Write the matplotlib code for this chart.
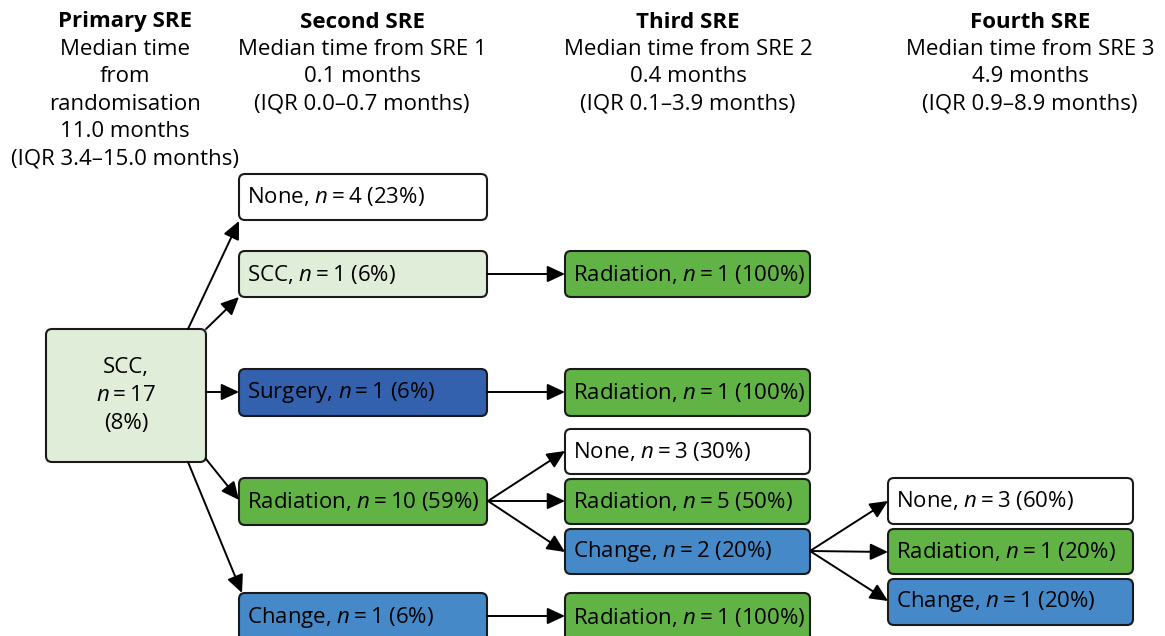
import matplotlib.pyplot as plt
from matplotlib.patches import FancyBboxPatch
from matplotlib.patches import ArrowStyle

plt.rcParams["font.family"] = "Open Sans"
plt.rcParams["mathtext.fontset"] = "custom"
plt.rcParams["mathtext.rm"] = "Open Sans"
plt.rcParams["mathtext.it"] = "Open Sans:italic"

FONT_SIZE = 16

# header of each column: (title, lines below)
HEADER_TITLES = ["Primary SRE", "Second SRE", "Third SRE", "Fourth SRE"]
HEADER_LINES = [
    ["Median time", "from", "randomisation", "11.0 months", "(IQR 3.4\u201315.0 months)"],
    ["Median time from SRE 1", "0.1 months", "(IQR 0.0\u20130.7 months)"],
    ["Median time from SRE 2", "0.4 months", "(IQR 0.1\u20133.9 months)"],
    ["Median time from SRE 3", "4.9 months", "(IQR 0.9\u20138.9 months)"],
]
HEADER_X = [125, 362, 688, 1030]

# node data
PRIMARY_NAME = "SCC"
PRIMARY_N = 17
PRIMARY_PCT = 8

SECOND_NAMES = ["None", "SCC", "Surgery", "Radiation", "Change"]
SECOND_N = [4, 1, 1, 10, 1]
SECOND_PCT = [23, 6, 6, 59, 6]

THIRD_NAMES = ["Radiation", "Radiation", "None", "Radiation", "Change", "Radiation"]
THIRD_N = [1, 1, 3, 5, 2, 1]
THIRD_PCT = [100, 100, 30, 50, 20, 100]

FOURTH_NAMES = ["None", "Radiation", "Change"]
FOURTH_N = [3, 1, 1]
FOURTH_PCT = [60, 20, 20]

COLORS = {
    "None": "#ffffff",
    "SCC": "#e0eed9",
    "Surgery": "#3461ae",
    "Radiation": "#62b346",
    "Change": "#4689c8",
}

# layout (pixels, y downward)
SECOND_X = (239, 487)
SECOND_Y = [(174, 220), (251, 297), (369, 416), (478, 525), (593, 642)]
THIRD_X = (565, 810)
THIRD_Y = [(251, 297), (369, 416), (429, 474), (479, 524), (529, 574), (593, 642)]
FOURTH_X = (888, 1133)
FOURTH_Y = [(478, 524), (529, 574), (579, 625)]


def label(name, n, pct):
    return f"{name}, $n{{=}}{n}$ ({pct}%)"


def box(ax, x0, x1, y0, y1, color):
    p = FancyBboxPatch(
        (x0, y0), x1 - x0, y1 - y0,
        boxstyle="round,pad=0,rounding_size=6",
        facecolor=color, edgecolor="#1a1a1a", linewidth=1.5, zorder=2,
    )
    ax.add_patch(p)


def arrow(ax, tail, head):
    ax.annotate(
        "", xy=head, xytext=tail,
        arrowprops=dict(
            arrowstyle=ArrowStyle("-|>", head_length=0.9, head_width=0.42),
            mutation_scale=12, lw=1.4, color="black",
            shrinkA=0, shrinkB=0,
        ),
        zorder=3,
    )


fig = plt.figure(figsize=(11.65, 6.36), dpi=100)
ax = fig.add_axes([0, 0, 1, 1])
ax.set_xlim(0, 1165)
ax.set_ylim(636, 0)
ax.axis("off")

# headers
for title, lines, x in zip(HEADER_TITLES, HEADER_LINES, HEADER_X):
    ax.text(x, 22, title, ha="center", va="center", fontsize=FONT_SIZE, fontweight="bold")
    for i, line in enumerate(lines):
        ax.text(x, 22 + 27.4 * (i + 1), line, ha="center", va="center", fontsize=FONT_SIZE)

# primary box
box(ax, 46, 206, 329, 462, COLORS[PRIMARY_NAME])
primary_lines = [f"{PRIMARY_NAME},", f"$n{{=}}{PRIMARY_N}$", f"({PRIMARY_PCT}%)"]
for i, line in enumerate(primary_lines):
    ax.text(126, 368 + 27.5 * i, line, ha="center", va="center", fontsize=FONT_SIZE, zorder=4)

# columns of boxes
columns = [
    (SECOND_NAMES, SECOND_N, SECOND_PCT, SECOND_X, SECOND_Y),
    (THIRD_NAMES, THIRD_N, THIRD_PCT, THIRD_X, THIRD_Y),
    (FOURTH_NAMES, FOURTH_N, FOURTH_PCT, FOURTH_X, FOURTH_Y),
]
for names, ns, pcts, (x0, x1), ys in columns:
    for name, n, pct, (y0, y1) in zip(names, ns, pcts, ys):
        box(ax, x0, x1, y0, y1, COLORS[name])
        ax.text(x0 + 8, (y0 + y1) / 2, label(name, n, pct), ha="left", va="center",
                fontsize=FONT_SIZE, zorder=4)

# arrows from primary
arrow(ax, (188, 329), (239, 221))
arrow(ax, (206, 329), (239, 297))
arrow(ax, (206, 392), (239, 392))
arrow(ax, (206, 459), (239, 500))
arrow(ax, (188, 462), (242, 593))

# second -> third
arrow(ax, (487, 274), (565, 274))
arrow(ax, (487, 392), (565, 392))
arrow(ax, (487, 616), (565, 616))
arrow(ax, (488, 501), (565, 451))
arrow(ax, (488, 501), (565, 501))
arrow(ax, (488, 501), (565, 552))

# third -> fourth
arrow(ax, (810, 551), (888, 501))
arrow(ax, (810, 551), (888, 552))
arrow(ax, (810, 551), (888, 601))

fig.savefig("out.png", dpi=100)
